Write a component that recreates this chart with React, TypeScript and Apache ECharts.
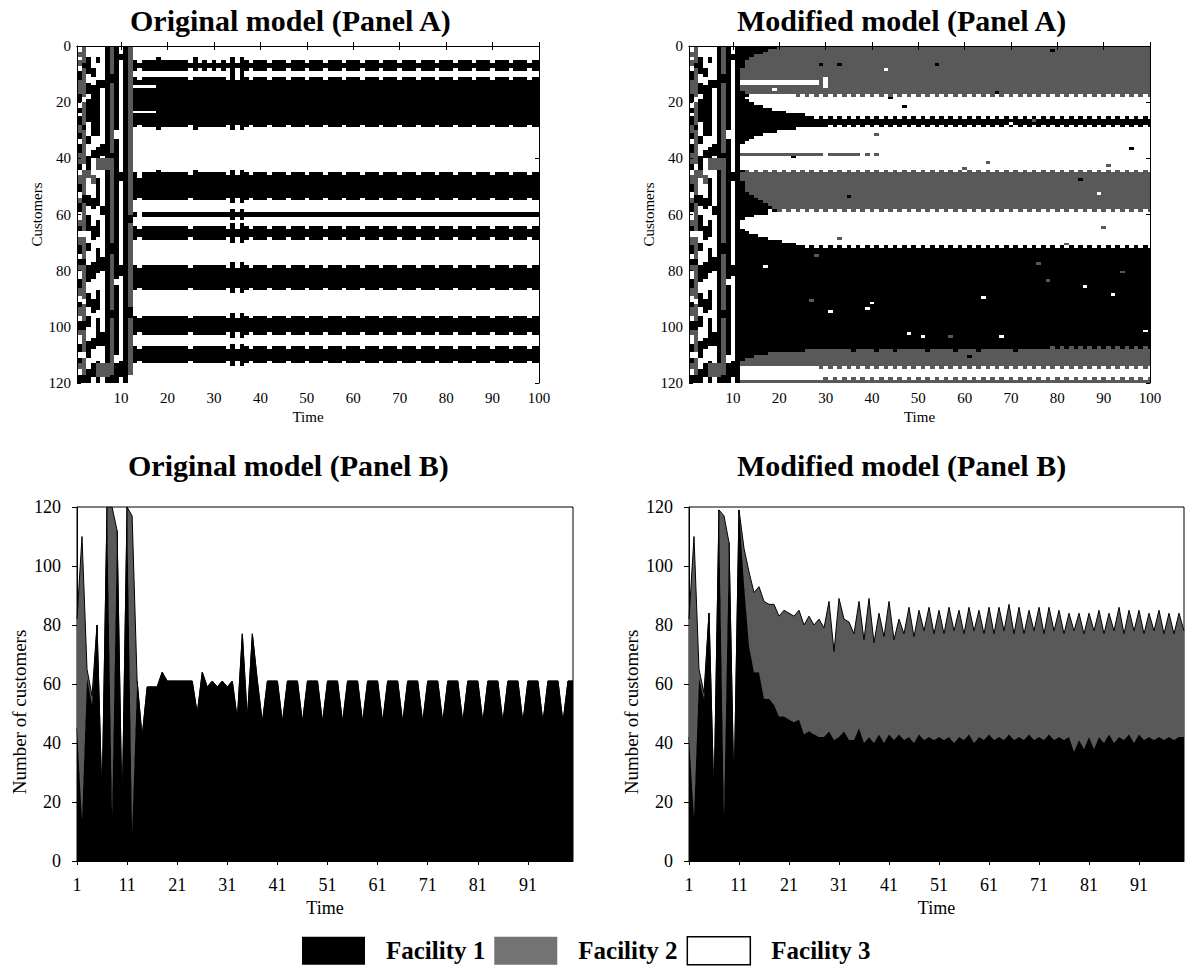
import React, { useEffect, useRef } from "react";
import * as echarts from "echarts";

const SERIF = "'Liberation Serif', 'Times New Roman', Times, serif";
const C_K = "#000000";
const C_G = "#595959";
const C_W = "#ffffff";
const C_G_LEGEND = "#737373";

// ---------- Panel A (heatmaps) data ----------
// Cell codes: K = Facility 1, G = Facility 2, W = Facility 3
// Early columns t = 1..11 (shared by both models), run-length along customers 1..120
const earlyCols: string[] = [
  "W2 G2 W1 G2 W2 K3 G5 K3 W2 K2 W1 K3 G3 K2 W2 K3 G4 K2 W2 G3 K3 W2 G2 K3 W3 G2 K2 W2 G3 K3 W2 K2 G2 W3 K3 G3 W2 K2 G3 W2 K3 G2 W3 K3 W2 K2 G2 W2 K3",
  "G6 K2 G10 W2 G8 K2 G12 W2 G9 K3 G10 W2 G8 K2 G12 W2 G6 K3 G8 W2 G6 K3",
  "W4 K6 W3 K4 W2 K8 W5 K3 W4 K5 G3 W6 K4 W3 K6 W4 K3 W5 K6 W4 K5 W3 K4 W5 K6 W4 K5",
  "W8 K3 W3 K18 W5 K3 W6 G3 W5 K4 W6 K5 W8 K6 W7 K5 W9 K4 W5 K5 W2",
  "W4 K2 W6 K20 W4 K4 G4 W3 K10 W5 K6 W4 K9 W6 K7 W3 K10 W5 K1 G5 K2",
  "W12 K3 W20 K4 W1 G4 W13 K3 W15 K5 W22 K5 W6 G5 W2",
  "K40 G4 K69 G5 K2",
  "G10 K3 G25 K2 G30 K4 G20 K3 G20 K3",
  "K30 W3 K50 W2 K25 W3 K7",
  "W3 K2 W40 K3 W30 K4 W30 K6 W2",
  "K120",
];

// Original model: column t = 12
const origCol12 = "G60 K3 G30 K4 G20 W3";

// Original model: column profiles for t = 13..100
const origProfiles: Record<string, string> = {
  w: "W5 K4 W2 K18 W16 K10 W4 K2 W3 K5 W9 K9 W9 K7 W4 K6 W7",
  n: "W6 K2 W4 K16 W18 K8 W5 K2 W4 K3 W11 K7 W11 K5 W6 K4 W8",
  x: "W4 K26 W14 K12 W2 K4 W1 K7 W7 K11 W7 K9 W2 K8 W6",
  a: "W5 K4 W2 K3 W1 K8 W1 K5 W16 K10 W4 K2 W3 K5 W9 K9 W9 K7 W4 K6 W7",
  b: "W6 K2 W4 K2 W1 K8 W1 K4 W19 K7 W11 K3 W11 K7 W11 K5 W6 K4 W8",
  c: "W4 K5 W2 K19 W14 K11 W4 K2 W3 K5 W9 K9 W9 K7 W4 K6 W7",
  e: "W6 K2 W3 K18 W16 K10 W4 K2 W3 K5 W9 K9 W9 K7 W4 K6 W7",
};
// profile used at each t = 13..100
const origTailSeq =
  "abaaacwwwwwwncewewewnxnxw" +
  "nwwwnwwwnwwwnwwwnwwwnwwwnwwwnwwwnwwwnwwwnwwwnwwwnwwwnwwwnwww" +
  "nww";

// Modified model: rows (customers 1..120), run-length along t = 12..100
const modTailRows: string[] = [
  "K8 G*", "K6 G*", "K5 G*", "K3 G*", "K2 G*", "K1 G*", "K1 G*", "K1 G*", "G*", "G*",
  "G*", "G*", "W17 G*", "W17 G*", "G*", "G*", "K1 G*", "K2 W10 (GW)*", "K1 W*", "K2 W*",
  "K3 W*", "K5 W*", "K7 W*", "K10 W*", "K14 W*", "K16 (WK)*", "K*", "K*", "K18 (KW)*", "K12 W*",
  "K8 W*", "K5 W*", "K3 W*", "K2 W*", "K1 W*", "W*", "W*", "W*", "G18 W1 G7 W1 G1 W1 G1 W*", "W*",
  "W*", "W*", "W*", "W*", "K1 (GW)*", "G*", "G*", "G*", "K1 G*", "K1 G*",
  "K1 G*", "K1 G*", "K2 G*", "K3 G*", "K4 G*", "K5 G*", "K6 G*", "K7 G*", "K8 (GW)*", "K6 W*",
  "K3 W*", "K1 W*", "W*", "W*", "W*", "K1 W*", "K2 W*", "K4 W*", "K6 W*", "K9 W*",
  "K12 W*", "K14 (WK)*", "K*", "K*", "K*", "K*", "K*", "K*", "K*", "K*",
  "K*", "K*", "K*", "K*", "K*", "K*", "K*", "K*", "K*", "K*",
  "K*", "K*", "K*", "K*", "K*", "K*", "K*", "K*", "K*", "K*",
  "K*", "K*", "K*", "K*", "K*", "K*", "K*", "K66 (KG)*", "K14 G*", "K6 G*",
  "K3 G*", "K1 G*", "G*", "G*", "W17 (GW)*", "W*", "W*", "W*", "W17 (WG)*", "G*",
];

// Modified model: isolated cells [t, customer, code]
const modDots: [number, number, string][] = [
  [29, 7, "K"], [33, 7, "K"], [54, 7, "K"], [79, 2, "K"], [43, 9, "W"], [67, 17, "K"], [19, 16, "W"],
  [44, 19, "K"], [47, 22, "K"], [70, 28, "W"], [75, 27, "G"], [41, 32, "G"], [96, 37, "K"], [65, 42, "G"],
  [60, 44, "G"], [91, 43, "G"], [23, 40, "K"], [85, 48, "K"], [89, 53, "W"], [35, 54, "K"], [18, 59, "W"],
  [33, 69, "G"], [90, 65, "G"], [82, 71, "G"], [17, 79, "W"], [28, 75, "G"], [76, 78, "G"], [78, 84, "G"],
  [86, 86, "W"], [94, 81, "G"], [92, 89, "W"], [64, 90, "W"], [27, 91, "G"], [40, 92, "W"], [39, 94, "W"],
  [31, 95, "W"], [48, 103, "W"], [51, 104, "W"], [57, 104, "G"], [68, 104, "W"], [99, 102, "W"], [61, 111, "K"],
  [30, 12, "W"], [30, 13, "W"], [30, 14, "W"], [30, 15, "W"],
  [36, 109, "K"], [41, 109, "K"], [45, 109, "K"], [52, 109, "K"], [58, 109, "K"], [63, 109, "K"], [71, 109, "K"],
];

const heatXTicks = [10, 20, 30, 40, 50, 60, 70, 80, 90, 100];

// ---------- Panel B (stacked areas) data ----------
const timeCategories: string[] = Array.from({ length: 100 }, (_, i) => String(i + 1));

const origFacility1 = [
  45, 14, 62, 53, 80, 20, 120, 15, 112, 15,
  120, 10, 61, 42, 59, 59, 59, 64, 61, 61,
  61, 61, 61, 61, 50, 64, 59, 61, 59, 61,
  59, 61, 48, 77, 48, 77, 61, 47, 61, 61,
  61, 47, 61, 61, 61, 47, 61, 61, 61, 47,
  61, 61, 61, 47, 61, 61, 61, 47, 61, 61,
  61, 47, 61, 61, 61, 47, 61, 61, 61, 47,
  61, 61, 61, 47, 61, 61, 61, 47, 61, 61,
  61, 47, 61, 61, 61, 47, 61, 61, 61, 47,
  61, 61, 61, 47, 61, 61, 61, 47, 61, 61,
];
const origFacility2 = [
  37, 96, 3, 3, 0, 0, 0, 105, 0, 0,
  0, 107, 0, 0, 0, 0, 0, 0, 0, 0,
  0, 0, 0, 0, 0, 0, 0, 0, 0, 0,
  0, 0, 0, 0, 0, 0, 0, 0, 0, 0,
  0, 0, 0, 0, 0, 0, 0, 0, 0, 0,
  0, 0, 0, 0, 0, 0, 0, 0, 0, 0,
  0, 0, 0, 0, 0, 0, 0, 0, 0, 0,
  0, 0, 0, 0, 0, 0, 0, 0, 0, 0,
  0, 0, 0, 0, 0, 0, 0, 0, 0, 0,
  0, 0, 0, 0, 0, 0, 0, 0, 0, 0,
];
const modFacility1 = [
  42, 15, 62, 55, 84, 20, 119, 15, 108, 22,
  119, 94, 73, 64, 64, 55, 55, 53, 49, 49,
  48, 47, 48, 43, 44, 43, 42, 42, 44, 41,
  42, 44, 41, 41, 45, 40, 42, 40, 43, 40,
  43, 41, 43, 41, 42, 40, 43, 41, 42, 41,
  42, 41, 42, 40, 42, 41, 43, 40, 42, 41,
  43, 41, 42, 41, 43, 41, 42, 41, 43, 41,
  42, 41, 43, 41, 42, 41, 42, 37, 41, 38,
  42, 38, 42, 40, 43, 40, 42, 41, 43, 40,
  43, 41, 42, 41, 42, 41, 42, 41, 42, 42,
];
const modFacility2 = [
  40, 95, 3, 2, 0, 0, 0, 102, 0, 0,
  0, 12, 25, 27, 29, 33, 32, 34, 34, 36,
  36, 36, 37, 37, 39, 37, 40, 37, 44, 30,
  47, 38, 40, 36, 43, 35, 47, 34, 41, 36,
  45, 34, 39, 36, 44, 36, 42, 37, 44, 36,
  43, 36, 44, 38, 43, 36, 43, 38, 43, 36,
  43, 36, 44, 37, 44, 36, 44, 36, 42, 37,
  44, 36, 43, 37, 43, 36, 42, 41, 43, 39,
  42, 40, 43, 37, 41, 38, 44, 36, 42, 38,
  42, 36, 42, 37, 43, 36, 42, 36, 42, 36,
];

// ---------- helpers ----------
function expandSpec(spec: string, len: number): string[] {
  const out: string[] = [];
  for (const tok of spec.trim().split(/\s+/)) {
    let m = tok.match(/^\(([KGW]+)\)(\*|\d+)$/);
    if (m) {
      const pat = m[1];
      if (m[2] === "*") {
        let i = 0;
        while (out.length < len) { out.push(pat[i % pat.length]); i++; }
      } else {
        const n = Number(m[2]);
        for (let k = 0; k < n; k++) for (const ch of pat) out.push(ch);
      }
      continue;
    }
    m = tok.match(/^([KGW])(\*|\d+)$/);
    if (m) {
      if (m[2] === "*") { while (out.length < len) out.push(m[1]); }
      else { const n = Number(m[2]); for (let k = 0; k < n; k++) out.push(m[1]); }
    }
  }
  while (out.length < len) out.push(out.length ? out[out.length - 1] : "W");
  return out.slice(0, len);
}

function buildOriginalGrid(): string[][] {
  const cols = [...earlyCols, origCol12].map((s) => expandSpec(s, 120));
  for (const ch of origTailSeq) cols.push(expandSpec(origProfiles[ch], 120));
  const grid: string[][] = [];
  for (let r = 0; r < 120; r++) {
    const row: string[] = [];
    for (let t = 0; t < 100; t++) row.push(cols[t] ? cols[t][r] : "W");
    grid.push(row);
  }
  return grid;
}

function buildModifiedGrid(): string[][] {
  const early = earlyCols.map((s) => expandSpec(s, 120));
  const grid: string[][] = [];
  for (let r = 0; r < 120; r++) {
    const tail = expandSpec(modTailRows[r] || "W*", 89);
    grid.push(early.map((c) => c[r]).concat(tail));
  }
  for (const [t, r, c] of modDots) grid[r - 1][t - 1] = c;
  return grid;
}

// blocks of equal cells: [tStart, tEnd, rowStart, rowEnd]
function blocksOf(grid: string[][], code: string): number[][] {
  const out: number[][] = [];
  let prev = new Map<string, number[]>();
  for (let r = 0; r < grid.length; r++) {
    const cur = new Map<string, number[]>();
    let t = 0;
    while (t < 100) {
      if (grid[r][t] === code) {
        const s = t;
        while (t < 100 && grid[r][t] === code) t++;
        const key = s + "-" + t;
        const p = prev.get(key);
        if (p) { p[3] = r + 1; cur.set(key, p); }
        else { const b = [s + 1, t, r + 1, r + 1]; out.push(b); cur.set(key, b); }
      } else t++;
    }
    prev = cur;
  }
  return out;
}

const makeRender = (color: string) => (params: any, api: any) => {
  const t0 = api.value(0);
  const t1 = api.value(1);
  const r0 = api.value(2);
  const r1 = api.value(3);
  const a = api.coord([t0 - 0.5, r0 - 1]);
  const b = api.coord([t1 + 0.5, r1]);
  const cs = params.coordSys;
  // snap block edges to whole pixels so neighbouring blocks meet without seams
  const x0 = Math.round(Math.min(a[0], b[0]));
  const x1 = Math.round(Math.max(a[0], b[0]));
  const y0 = Math.round(Math.min(a[1], b[1]));
  const y1 = Math.round(Math.max(a[1], b[1]));
  const shape = echarts.graphic.clipRectByRect(
    { x: x0, y: y0, width: x1 - x0, height: y1 - y0 },
    { x: cs.x, y: cs.y, width: cs.width, height: cs.height }
  );
  if (!shape || shape.width <= 0 || shape.height <= 0) return null;
  return { type: "rect", shape, style: { fill: color } };
};

function heatSeries(grid: string[][], axisIdx: number): any[] {
  const defs: [string, string, string][] = [
    ["Facility 3", "W", C_W],
    ["Facility 2", "G", C_G],
    ["Facility 1", "K", C_K],
  ];
  return defs.map(([name, code, color]) => ({
    type: "custom",
    name,
    coordinateSystem: "cartesian2d",
    xAxisIndex: axisIdx,
    yAxisIndex: axisIdx,
    renderItem: makeRender(color),
    encode: { x: [0, 1], y: [2, 3] },
    data: blocksOf(grid, code),
    itemStyle: { color },
    silent: true,
    z: 2,
  }));
}

function areaSeries(f1: number[], f2: number[], axisIdx: number, stack: string): any[] {
  return [
    {
      type: "line", name: "Facility 1", xAxisIndex: axisIdx, yAxisIndex: axisIdx, stack,
      data: f1, symbol: "none", silent: true,
      lineStyle: { color: "#000", width: 1 }, itemStyle: { color: C_K },
      areaStyle: { color: C_K, opacity: 1 }, z: 2,
    },
    {
      type: "line", name: "Facility 2", xAxisIndex: axisIdx, yAxisIndex: axisIdx, stack,
      data: f2, symbol: "none", silent: true,
      lineStyle: { color: "#000", width: 1 }, itemStyle: { color: C_G },
      areaStyle: { color: C_G, opacity: 1 }, z: 3,
    },
  ];
}

function buildOption(): any {
  const origGrid = buildOriginalGrid();
  const modGrid = buildModifiedGrid();

  const black = "#000";
  const labelA = { color: black, fontFamily: SERIF, fontSize: 15 };
  const labelB = { color: black, fontFamily: SERIF, fontSize: 18 };
  const lineA = { show: true, lineStyle: { color: black, width: 1 } };

  const heatX = (gridIndex: number, bottom: boolean) => ({
    type: "value", gridIndex, min: 0.5, max: 100, position: bottom ? "bottom" : "top",
    axisLine: lineA,
    axisTick: { show: true, inside: true, length: 4, lineStyle: { color: black }, customValues: heatXTicks },
    axisLabel: bottom ? { ...labelA, margin: 7, customValues: heatXTicks } : { show: false },
    splitLine: { show: false }, z: 5,
    ...(bottom ? { name: "Time", nameLocation: "middle", nameGap: 26, nameTextStyle: { ...labelA } } : {}),
  });
  const heatY = (gridIndex: number, left: boolean) => ({
    type: "value", gridIndex, min: 0, max: 120, interval: 20, inverse: true, position: left ? "left" : "right",
    axisLine: lineA,
    axisTick: { show: true, inside: true, length: 4, lineStyle: { color: black } },
    axisLabel: left ? { ...labelA, margin: 6 } : { show: false },
    splitLine: { show: false }, z: 5,
    ...(left ? { name: "Customers", nameLocation: "middle", nameGap: 33, nameTextStyle: { ...labelA } } : {}),
  });
  const areaX = (gridIndex: number) => ({
    type: "category", gridIndex, data: timeCategories, boundaryGap: false, position: "bottom",
    axisLine: { show: true, onZero: false, lineStyle: { color: black, width: 1 } },
    axisTick: { show: true, inside: false, length: 4, interval: 9, lineStyle: { color: black } },
    axisLabel: { ...labelB, interval: 9, margin: 15 },
    splitLine: { show: false },
    name: "Time", nameLocation: "middle", nameGap: 38, nameTextStyle: { ...labelB },
  });
  const areaY = (gridIndex: number) => ({
    type: "value", gridIndex, min: 0, max: 120, interval: 20, position: "left",
    axisLine: { show: true, lineStyle: { color: black, width: 1 } },
    axisTick: { show: true, inside: false, length: 5, lineStyle: { color: black } },
    axisLabel: { ...labelB, margin: 16 },
    splitLine: { show: false },
  });

  const titleStyle = { fontFamily: SERIF, fontWeight: "bold", fontSize: 30, color: black };

  return {
    animation: false,
    backgroundColor: "#ffffff",
    title: [
      { text: "Original model (Panel A)", left: 130, top: 5, padding: 0, textStyle: titleStyle },
      { text: "Modified model (Panel A)", left: 737, top: 5, padding: 0, textStyle: titleStyle },
      { text: "Original model (Panel B)", left: 128, top: 450, padding: 0, textStyle: titleStyle },
      { text: "Modified model (Panel B)", left: 737, top: 450, padding: 0, textStyle: titleStyle },
    ],
    legend: {
      left: 297, top: 931, orient: "horizontal", icon: "rect",
      itemWidth: 63, itemHeight: 28, itemGap: 9, selectedMode: false,
      textStyle: {
        fontFamily: SERIF, fontWeight: "bold", fontSize: 25, lineHeight: 26,
        color: black, padding: [0, 0, 0, 16],
      },
      data: [
        { name: "Facility 1", itemStyle: { color: C_K, borderWidth: 0 } },
        { name: "Facility 2", itemStyle: { color: C_G_LEGEND, borderWidth: 0 } },
        { name: "Facility 3", itemStyle: { color: C_W, borderColor: black, borderWidth: 1.5 } },
      ],
    },
    grid: [
      { left: 77, top: 46, width: 462, height: 337, show: false },
      { left: 689, top: 46, width: 461, height: 337, show: false },
      { left: 77, top: 507, width: 496, height: 354, show: true, borderColor: black, borderWidth: 1, backgroundColor: "transparent" },
      { left: 689, top: 507, width: 495, height: 354, show: true, borderColor: black, borderWidth: 1, backgroundColor: "transparent" },
    ],
    xAxis: [heatX(0, true), heatX(0, false), heatX(1, true), heatX(1, false), areaX(2), areaX(3)],
    yAxis: [heatY(0, true), heatY(0, false), heatY(1, true), heatY(1, false), areaY(2), areaY(3)],
    graphic: [
      {
        type: "text", x: 19, y: 712, rotation: Math.PI / 2, silent: true,
        style: { text: "Number of customers", fontFamily: SERIF, fontSize: 19, fill: black, align: "center", verticalAlign: "middle" },
      },
      {
        type: "text", x: 631, y: 712, rotation: Math.PI / 2, silent: true,
        style: { text: "Number of customers", fontFamily: SERIF, fontSize: 19, fill: black, align: "center", verticalAlign: "middle" },
      },
    ],
    series: [
      ...heatSeries(origGrid, 0),
      ...heatSeries(modGrid, 2),
      ...areaSeries(origFacility1, origFacility2, 4, "orig"),
      ...areaSeries(modFacility1, modFacility2, 5, "mod"),
    ],
  };
}

export default function App() {
  const ref = useRef<HTMLDivElement>(null);
  useEffect(() => {
    if (!ref.current) return;
    const chart = echarts.init(ref.current, undefined, { renderer: "svg" });
    chart.setOption(buildOption());
    return () => chart.dispose();
  }, []);
  return (
    <div
      ref={ref}
      style={{ position: "absolute", left: 0, top: 0, width: 1186, height: 966, background: "#ffffff" }}
    />
  );
}
